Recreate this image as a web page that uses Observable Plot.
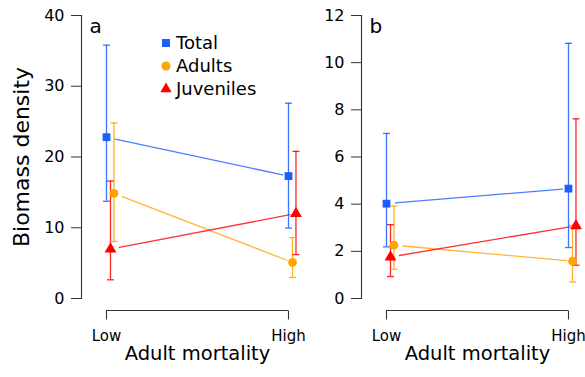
<!DOCTYPE html>
<html><head><meta charset="utf-8">
<script src="https://cdn.jsdelivr.net/npm/d3@7"></script>
<script src="https://cdn.jsdelivr.net/npm/@observablehq/plot@0.6"></script>
<style>
body{margin:0;background:#fff;font-family:"DejaVu Sans",sans-serif;}
#wrap{position:relative;width:585px;height:377px;overflow:hidden;background:#fff;}
#wrap > svg{position:absolute;top:0;overflow:visible;}
.leg{position:absolute;left:158px;height:23px;display:flex;align-items:center;font-size:18px;color:#000;white-space:nowrap;}
.leg svg{width:16px;height:16px;margin-right:2px;}
</style></head><body><div id="wrap"></div>
<script>
// ---- data ----
const categories = ["Low", "High"];
const series = ["Total", "Adults", "Juveniles"];
const colors = ["#1d5cff", "#ffa500", "#ff0000"];
const symbols = ["square", "circle", "triangle"];
const yTicksA = [0, 10, 20, 30, 40];
const yTicksB = [0, 2, 4, 6, 8, 10, 12];

// panel a
const aTotal = [22.8, 17.3], aTotalLo = [13.75, 9.95], aTotalHi = [35.8, 27.6];
const aAdults = [14.85, 5.1], aAdultsLo = [8.05, 2.97], aAdultsHi = [24.8, 8.6];
const aJuveniles = [7.0, 12.0], aJuvenilesLo = [2.64, 6.2], aJuvenilesHi = [16.6, 20.8];
// panel b
const bTotal = [4.02, 4.66], bTotalLo = [2.19, 2.16], bTotalHi = [7.0, 10.82];
const bAdults = [2.26, 1.58], bAdultsLo = [1.24, 0.70], bAdultsHi = [3.92, 3.1];
const bJuveniles = [1.76, 3.08], bJuvenilesLo = [0.93, 1.41], bJuvenilesHi = [3.13, 7.62];

// small horizontal dodge of the series at each category (data units)
const dodge = [[0, 0], [0.041, 0.022], [0.022, 0.041]];

function rowsOf(means, los, his) {
  const rows = [];
  series.forEach((s, k) => categories.forEach((c, i) => rows.push({
    series: s, k, cat: c, x: i + 1 + dodge[k][i], mean: means[k][i], lo: los[k][i], hi: his[k][i]
  })));
  return rows;
}
const capSymbol = {draw(ctx) { ctx.moveTo(-3.5, 0); ctx.lineTo(3.5, 0); }};
const tickSymbol = {draw(ctx) { ctx.moveTo(0, 0); ctx.lineTo(0, 9); }};

function panel({rows, yDomain, yTicks, letter, yTitle, width, marginRight}) {
  const segs = series.map((s, k) => {
    const r = rows.filter(d => d.k === k);
    return {k, x1: r[0].x, y1: r[0].mean, x2: r[1].x, y2: r[1].mean};
  });
  const marks = [
    Plot.frame({anchor: "left", stroke: "#333", strokeWidth: 1.1}),
    Plot.axisY({ticks: yTicks, tickSize: 10, tickPadding: 7, fontSize: 16, label: null, stroke: "#333", fill: "#000"}),
    Plot.ruleY([0], {x1: 1, x2: categories.length, dy: 12, stroke: "#333", strokeWidth: 1.1}),
    Plot.dot(categories, {x: (d, i) => i + 1, y: 0, dy: 12, symbol: tickSymbol, fill: "none", stroke: "#333", strokeWidth: 1.1}),
    Plot.text(categories, {x: (d, i) => i + 1, frameAnchor: "bottom", lineAnchor: "top", dy: 32, fontSize: 15, fill: "#000"}),
    Plot.text(["Adult mortality"], {x: () => (1 + categories.length) / 2, frameAnchor: "bottom", lineAnchor: "top", dy: 48, fontSize: 19.5, fill: "#000"}),
    Plot.text([letter], {frameAnchor: "top-left", textAnchor: "start", lineAnchor: "top", dx: 8, dy: 3, fontSize: 20, fill: "#000"}),
    Plot.arrow(segs, {x1: "x1", y1: "y1", x2: "x2", y2: "y2", headLength: 0, bend: 0, insetStart: 9, insetEnd: 6,
      stroke: d => colors[d.k], strokeOpacity: 0.8, strokeWidth: 1.3}),
    Plot.ruleX(rows, {x: "x", y1: "lo", y2: "hi", stroke: d => colors[d.k], strokeOpacity: 0.85, strokeWidth: 1.3}),
    Plot.dot(rows, {x: "x", y: "lo", symbol: capSymbol, fill: "none", stroke: d => colors[d.k], strokeOpacity: 0.85, strokeWidth: 1.3}),
    Plot.dot(rows, {x: "x", y: "hi", symbol: capSymbol, fill: "none", stroke: d => colors[d.k], strokeOpacity: 0.85, strokeWidth: 1.3}),
    Plot.dot(rows, {x: "x", y: "mean", symbol: d => symbols[d.k], fill: d => colors[d.k], r: 4.4, stroke: "none"})
  ];
  if (yTitle) marks.push(Plot.text([yTitle], {frameAnchor: "left", textAnchor: "middle", rotate: -90, dx: -60, lineAnchor: "middle", fontSize: 22, fill: "#000"}));
  return Plot.plot({
    width, height: 377,
    marginLeft: 81, marginRight, marginTop: 15, marginBottom: 79,
    style: {fontFamily: "DejaVu Sans", background: "transparent", overflow: "visible"},
    x: {domain: [1, categories.length], insetLeft: 25, axis: null},
    y: {domain: yDomain, axis: null},
    symbol: {type: "identity"},
    marks
  });
}

const wrap = document.getElementById("wrap");
const pa = panel({
  rows: rowsOf([aTotal, aAdults, aJuveniles], [aTotalLo, aAdultsLo, aJuvenilesLo], [aTotalHi, aAdultsHi, aJuvenilesHi]),
  yDomain: [0, 40], yTicks: yTicksA, letter: "a", yTitle: "Biomass density", width: 300, marginRight: 12
});
pa.style.left = "0px";
const pb = panel({
  rows: rowsOf([bTotal, bAdults, bJuveniles], [bTotalLo, bAdultsLo, bJuvenilesLo], [bTotalHi, bAdultsHi, bJuvenilesHi]),
  yDomain: [0, 12], yTicks: yTicksB, letter: "b", yTitle: null, width: 305, marginRight: 17
});
pb.style.left = "280px";
wrap.appendChild(pa);
wrap.appendChild(pb);

// legend (inside panel a)
series.forEach((s, k) => {
  const row = document.createElement("div");
  row.className = "leg";
  row.style.top = (31 + k * 23) + "px";
  const sym = d3.symbol(d3["symbol" + symbols[k][0].toUpperCase() + symbols[k].slice(1)], k === 2 ? 56 : 64)();
  row.innerHTML = `<svg viewBox="-8 -8 16 16"><path d="${sym}" fill="${colors[k]}"/></svg><span>${s}</span>`;
  wrap.appendChild(row);
});
</script></body></html>
